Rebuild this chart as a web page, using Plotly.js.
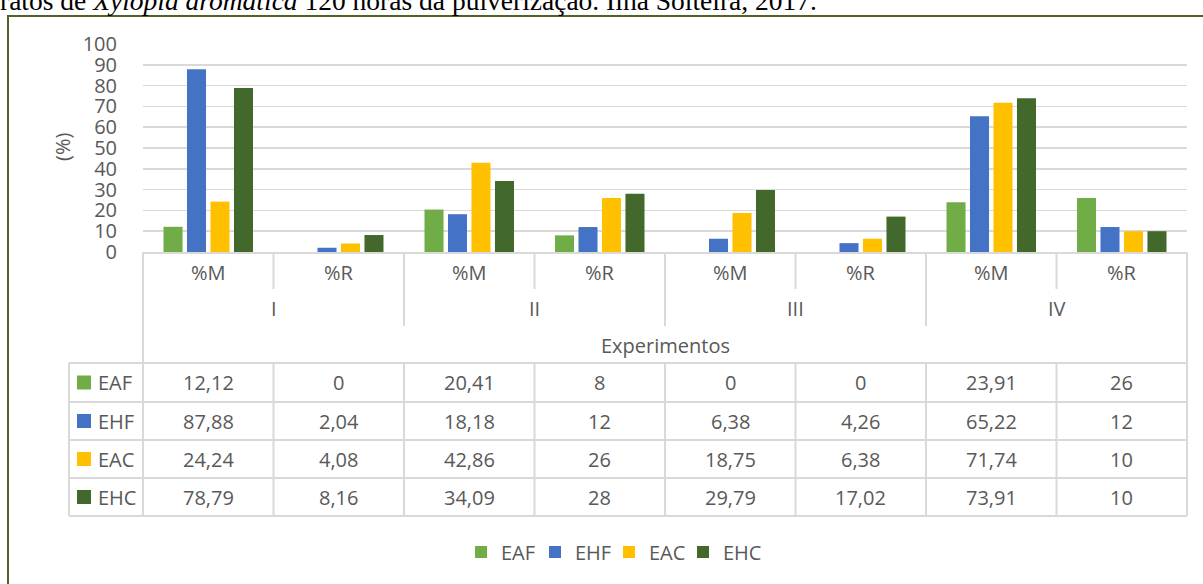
<!DOCTYPE html>
<html>
<head>
<meta charset="utf-8">
<script src="https://cdn.plot.ly/plotly-3.0.1.min.js"></script>
<style>html,body{margin:0;padding:0;background:#fff;}#chart{width:1203px;height:584px;}</style>
</head>
<body>
<div id="chart"></div>
<script>
// ---- data ----
const groups = ['I', 'II', 'III', 'IV'];
const categories = ['%M', '%R', '%M', '%R', '%M', '%R', '%M', '%R'];
const seriesNames = ['EAF', 'EHF', 'EAC', 'EHC'];
const EAF = [12.12, 0, 20.41, 8, 0, 0, 23.91, 26];
const EHF = [87.88, 2.04, 18.18, 12, 6.38, 4.26, 65.22, 12];
const EAC = [24.24, 4.08, 42.86, 26, 18.75, 6.38, 71.74, 10];
const EHC = [78.79, 8.16, 34.09, 28, 29.79, 17.02, 73.91, 10];
const seriesColors = ['#70AD47', '#4472C4', '#FFC000', '#43682B'];
const xTitle = 'Experimentos';
const yTitle = '(%)';
const captionText = 'ratos de <i>Xylopia aromatica</i> 120 horas da pulverização. Ilha Solteira, 2017.';

// ---- geometry helpers (pixels -> paper) ----
const W = 1203, H = 584;
const M = {l: 143, r: 16, t: 44, b: 332};
const PW = W - M.l - M.r, PH = H - M.t - M.b;
const xp = px => (px - M.l) / PW;
const yp = py => (H - M.b - py) / PH;

const allSeries = [EAF, EHF, EAC, EHC];
const xKeys = categories.map((c, i) => groups[Math.floor(i / 2)] + ' ' + c);
const nCat = categories.length;
const catW = PW / nCat;
const bx = k => M.l + k * catW; // boundary pixel
const textColor = '#595959';
const lineColor = '#D9D9D9';
const FONT = 'Open Sans, Lato, sans-serif';
const fmt = v => String(v).replace('.', ',');

const traces = allSeries.map((vals, s) => ({
  type: 'bar',
  name: seriesNames[s],
  x: xKeys,
  y: vals,
  marker: {color: seriesColors[s], line: {width: 0}},
  legendwidth: s === allSeries.length - 1 ? 45 : 29,
  hoverinfo: 'skip'
}));

const shapes = [];
const annotations = [];
const line = (x0, y0, x1, y1, color, width) => shapes.push({
  type: 'line', xref: 'paper', yref: 'paper',
  x0: xp(x0), y0: yp(y0), x1: xp(x1), y1: yp(y1),
  line: {color: color || lineColor, width: width || 2}
});

// frame
shapes.push({type: 'rect', xref: 'paper', yref: 'paper',
  x0: xp(8), x1: xp(1230), y0: yp(16), y1: yp(620),
  line: {color: '#4F6228', width: 2}, fillcolor: 'rgba(0,0,0,0)'});

// table rows
const rowEdges = [363, 402, 440, 478, 516];
const tableLeft = 69;
rowEdges.forEach(y => line(tableLeft, y, bx(nCat), y));
// vertical lines
line(bx(0), 252, bx(0), 516);
line(bx(nCat), 252, bx(nCat), 516);
line(tableLeft, 363, tableLeft, 516);
for (let k = 1; k < nCat; k++) {
  if (k % 2 === 0) line(bx(k), 252, bx(k), 326);
  else line(bx(k), 252, bx(k), 289);
  line(bx(k), 363, bx(k), 516);
}

const ann = (text, px, py, opts) => annotations.push(Object.assign({
  text: text, xref: 'paper', yref: 'paper', x: xp(px), y: yp(py),
  xanchor: 'center', yanchor: 'middle', showarrow: false,
  font: {family: FONT, size: 20, color: textColor}
}, opts || {}));

// category labels
categories.forEach((c, i) => ann(c, bx(i) + catW / 2, 272));
groups.forEach((g, j) => ann(g, bx(2 * j) + catW, 308));
ann(xTitle, (bx(0) + bx(nCat)) / 2, 345);
// y title
ann(yTitle, 62, 147, {textangle: -90});

// table body
for (let r = 0; r < allSeries.length; r++) {
  const yc = (rowEdges[r] + rowEdges[r + 1]) / 2;
  shapes.push({type: 'rect', xref: 'paper', yref: 'paper',
    x0: xp(77), x1: xp(91), y0: yp(yc - 7), y1: yp(yc + 7),
    line: {width: 0}, fillcolor: seriesColors[r]});
  ann(seriesNames[r], 96, yc, {xanchor: 'left'});
  allSeries[r].forEach((v, i) => ann(fmt(v), bx(i) + catW / 2, yc));
}

const layout = {
  width: W, height: H,
  margin: M,
  paper_bgcolor: '#fff', plot_bgcolor: '#fff',
  font: {family: FONT, size: 20, color: textColor},
  title: {text: captionText, font: {family: 'Liberation Serif, Times New Roman, serif', size: 27.5, color: '#000'},
    xref: 'container', yref: 'container', x: 0, xanchor: 'left', y: 1 - 0.5 / H, yanchor: 'middle', pad: {l: 0, t: 0, b: 0, r: 0}},
  barmode: 'group', bargap: 0.28, bargroupgap: 0.19,
  showlegend: true,
  legend: {orientation: 'h', x: xp(461), xanchor: 'left', y: yp(552), yanchor: 'middle',
    font: {family: FONT, size: 20, color: textColor}, entrywidthmode: 'pixels',
    bgcolor: 'rgba(0,0,0,0)', borderwidth: 0, traceorder: 'normal'},
  xaxis: {type: 'category', showticklabels: false, showgrid: false, zeroline: false,
    showline: true, linecolor: lineColor, linewidth: 2, ticks: '', range: [-0.5, nCat - 0.5], fixedrange: true},
  yaxis: {range: [0, 100], dtick: 10, tick0: 0, showgrid: true, gridcolor: lineColor, gridwidth: 1.5,
    zeroline: false, showline: false, ticks: '', ticklabelstandoff: 25,
    tickfont: {family: FONT, size: 20, color: textColor}, fixedrange: true},
  shapes: shapes,
  annotations: annotations
};

Plotly.newPlot('chart', traces, layout, {displayModeBar: false, staticPlot: true});
</script>
</body>
</html>
